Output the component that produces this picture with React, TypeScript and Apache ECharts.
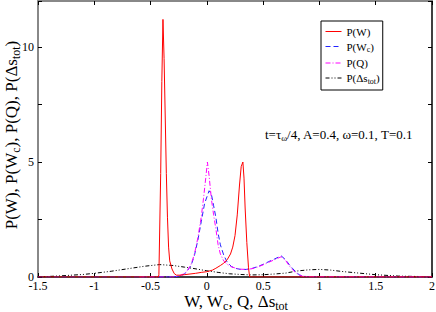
import React, { useEffect, useRef } from "react";
import * as echarts from "echarts";

const wX = [-1.5, -0.43, -0.426, -0.41, -0.4, -0.39, -0.38, -0.37, -0.36, -0.35, -0.34, -0.33, -0.31, -0.29, -0.27, -0.24, -0.2, -0.15, -0.1, -0.05, 0, 0.05, 0.08, 0.12, 0.15, 0.18, 0.21, 0.23, 0.25, 0.27, 0.29, 0.305, 0.32, 0.33, 0.34, 0.355, 0.37, 0.38, 2];
const wY = [0, 0, 0.1, 4.5, 8.5, 11.2, 9.5, 7, 4.5, 2.6, 1.3, 0.7, 0.35, 0.15, 0.08, 0.08, 0.1, 0.13, 0.16, 0.2, 0.23, 0.3, 0.38, 0.5, 0.6, 0.75, 1.0, 1.3, 1.8, 2.7, 4.0, 4.8, 5.0, 4.3, 3.0, 1.5, 0.4, 0, 0];

const wcX = [-1.5, -0.3, -0.25, -0.2, -0.17, -0.14, -0.11, -0.08, -0.05, -0.02, 0.02, 0.04, 0.06, 0.08, 0.1, 0.12, 0.15, 0.18, 0.22, 0.26, 0.3, 0.35, 0.4, 0.45, 0.5, 0.55, 0.6, 0.66, 0.7, 0.73, 0.76, 0.79, 0.82, 0.85, 0.9, 2];
const wcY = [0, 0, 0.03, 0.12, 0.3, 0.5, 0.95, 1.6, 2.4, 3.2, 3.75, 3.6, 3.1, 2.6, 1.9, 1.4, 0.95, 0.65, 0.45, 0.37, 0.33, 0.33, 0.37, 0.45, 0.55, 0.67, 0.78, 0.92, 0.75, 0.55, 0.38, 0.22, 0.1, 0.04, 0.01, 0];

const qX = [-0.6, -0.3, -0.25, -0.2, -0.17, -0.14, -0.11, -0.08, -0.05, -0.03, -0.01, 0.005, 0.02, 0.04, 0.06, 0.08, 0.1, 0.12, 0.15, 0.18, 0.22, 0.26, 0.3, 0.35, 0.4, 0.45, 0.5, 0.55, 0.6, 0.66, 0.7, 0.73, 0.76, 0.79, 0.82, 0.85, 0.9, 2];
const qY = [0, 0, 0.04, 0.15, 0.3, 0.55, 1.0, 1.7, 2.6, 3.4, 4.3, 5.0, 4.4, 3.4, 2.7, 2.1, 1.4, 1.0, 0.7, 0.55, 0.44, 0.38, 0.34, 0.33, 0.36, 0.43, 0.53, 0.64, 0.75, 0.88, 0.72, 0.5, 0.32, 0.18, 0.08, 0.03, 0.01, 0];

const sX = [-1.5, -1.3, -1.1, -1, -0.85, -0.7, -0.55, -0.42, -0.3, -0.2, -0.13, 0, 0.1, 0.2, 0.3, 0.4, 0.5, 0.6, 0.7, 0.8, 0.9, 1.0, 1.1, 1.2, 1.35, 1.5, 1.7, 2];
const sY = [0.0, 0.05, 0.11, 0.16, 0.25, 0.36, 0.47, 0.54, 0.5, 0.43, 0.38, 0.27, 0.2, 0.14, 0.11, 0.09, 0.1, 0.13, 0.17, 0.26, 0.31, 0.33, 0.3, 0.24, 0.17, 0.1, 0.04, 0.01];

const xTicks = [-1.5, -1, -0.5, 0, 0.5, 1, 1.5, 2];
const yLabelled = [0, 5, 10];

const FONT = "Liberation Serif";

const pairs = (xs: number[], ys: number[]) => xs.map((x, i) => [x, ys[i]]);

export default function App() {
  const ref = useRef<HTMLDivElement>(null);
  useEffect(() => {
    if (!ref.current) return;
    const chart = echarts.init(ref.current, undefined, { renderer: "svg" });
    const nrm = { fontSize: 11, fontFamily: FONT, color: "#000", lineHeight: 14 };
    const sub = { fontSize: 8, fontFamily: FONT, color: "#000", verticalAlign: "bottom", lineHeight: 5 };
    const bigN = { fontSize: 17, fontFamily: FONT, fill: "#000", lineHeight: 22 };
    const bigS = { fontSize: 12, fontFamily: FONT, fill: "#000", verticalAlign: "bottom", lineHeight: 7 };
    const legendNames: Record<string, string> = {
      "P(W)": "{n|P(W)}",
      "P(Wc)": "{n|P(W}{s|c}{n|)}",
      "P(Q)": "{n|P(Q)}",
      "P(dS)": "{n|P(Δs}{s|tot}{n|)}",
    };
    const option: any = {
      animation: false,
      backgroundColor: "#fff",
      grid: { left: 38, right: 4, top: 1, bottom: 35, outerBoundsMode: "none", containLabel: false },
      legend: {
        orient: "vertical",
        left: 321,
        top: 21,
        itemWidth: 16,
        itemHeight: 10,
        itemGap: 4,
        padding: [5, 3, 5, 4],
        borderColor: "#000",
        borderWidth: 1,
        backgroundColor: "#fff",
        itemStyle: { color: "rgba(0,0,0,0)", borderWidth: 0, opacity: 0 },
        lineStyle: { width: 1 },
        formatter: (name: string) => legendNames[name],
        textStyle: { rich: { n: nrm, s: sub } },
        data: ["P(W)", "P(Wc)", "P(Q)", "P(dS)"],
      },
      xAxis: [
        {
          type: "value",
          min: -1.5,
          max: 2,
          interval: 0.5,
          position: "bottom",
          axisLine: { onZero: false, lineStyle: { color: "#000", width: 1.5 } },
          axisTick: { inside: true, length: 4, lineStyle: { color: "#000" } },
          axisLabel: {
            color: "#000",
            fontFamily: FONT,
            fontSize: 12,
            margin: 3,
            formatter: (v: number) => (xTicks.includes(v) ? String(v) : ""),
          },
          splitLine: { show: false },
        },
        {
          type: "value",
          min: -1.5,
          max: 2,
          interval: 0.5,
          position: "top",
          axisLine: { onZero: false, lineStyle: { color: "#888", width: 2 } },
          axisTick: { inside: true, length: 4, lineStyle: { color: "#000" } },
          axisLabel: { show: false },
          splitLine: { show: false },
        },
      ],
      yAxis: [
        {
          type: "value",
          min: 0,
          max: 12,
          interval: 2.5,
          position: "left",
          axisLine: { onZero: false, lineStyle: { color: "#888", width: 2 } },
          axisTick: { inside: true, length: 4, lineStyle: { color: "#000" } },
          axisLabel: {
            color: "#000",
            fontFamily: FONT,
            fontSize: 12,
            margin: 4,
            formatter: (v: number) => (yLabelled.includes(v) ? String(v) : ""),
          },
          splitLine: { show: false },
        },
        {
          type: "value",
          min: 0,
          max: 12,
          interval: 2.5,
          position: "right",
          axisLine: { onZero: false, lineStyle: { color: "#000", width: 1.5 } },
          axisTick: { inside: true, length: 4, lineStyle: { color: "#000" } },
          axisLabel: { show: false },
          splitLine: { show: false },
        },
      ],
      series: [
        {
          name: "P(W)",
          type: "line",
          symbol: "none",
          data: pairs(wX, wY),
          lineStyle: { color: "#ff0000", width: 1 },
          itemStyle: { color: "#ff0000" },
          z: 4,
        },
        {
          name: "P(Wc)",
          type: "line",
          symbol: "none",
          data: pairs(wcX, wcY),
          lineStyle: { color: "#2222ff", width: 1, type: [5, 3] },
          itemStyle: { color: "#2222ff" },
          z: 3,
        },
        {
          name: "P(Q)",
          type: "line",
          symbol: "none",
          data: pairs(qX, qY),
          lineStyle: { color: "#ff00ff", width: 1, type: [5, 2, 1, 2] },
          itemStyle: { color: "#ff00ff" },
          z: 3,
        },
        {
          name: "P(dS)",
          type: "line",
          symbol: "none",
          data: pairs(sX, sY),
          lineStyle: { color: "#000", width: 1, type: [4, 2, 1, 2, 1, 2] },
          itemStyle: { color: "#000" },
          z: 2,
        },
      ],
      graphic: [
        {
          type: "text",
          x: 265,
          y: 134,
          style: {
            text: "{n|t=τ}{s|ω}{n|/4, A=0.4, ω=0.1, T=0.1}",
            align: "left",
            verticalAlign: "middle",
            rich: {
              n: { fontSize: 13, fontFamily: FONT, fill: "#000", lineHeight: 16 },
              s: { fontSize: 9, fontFamily: FONT, fill: "#000", verticalAlign: "bottom", lineHeight: 5 },
            },
          },
        },
        {
          type: "text",
          x: 236,
          y: 301,
          style: {
            text: "{n|W, W}{s|c}{n|, Q, Δs}{s|tot}",
            align: "center",
            verticalAlign: "middle",
            rich: { n: bigN, s: bigS },
          },
        },
        {
          type: "text",
          x: 11,
          y: 135,
          rotation: Math.PI / 2,
          style: {
            text: "{n|P(W), P(W}{s|c}{n|), P(Q), P(Δs}{s|tot}{n|)}",
            align: "center",
            verticalAlign: "middle",
            rich: { n: bigN, s: bigS },
          },
        },
      ],
    };
    chart.setOption(option);
    return () => chart.dispose();
  }, []);
  return <div ref={ref} style={{ width: 436, height: 312, position: "fixed", left: 0, top: 0 }} />;
}
